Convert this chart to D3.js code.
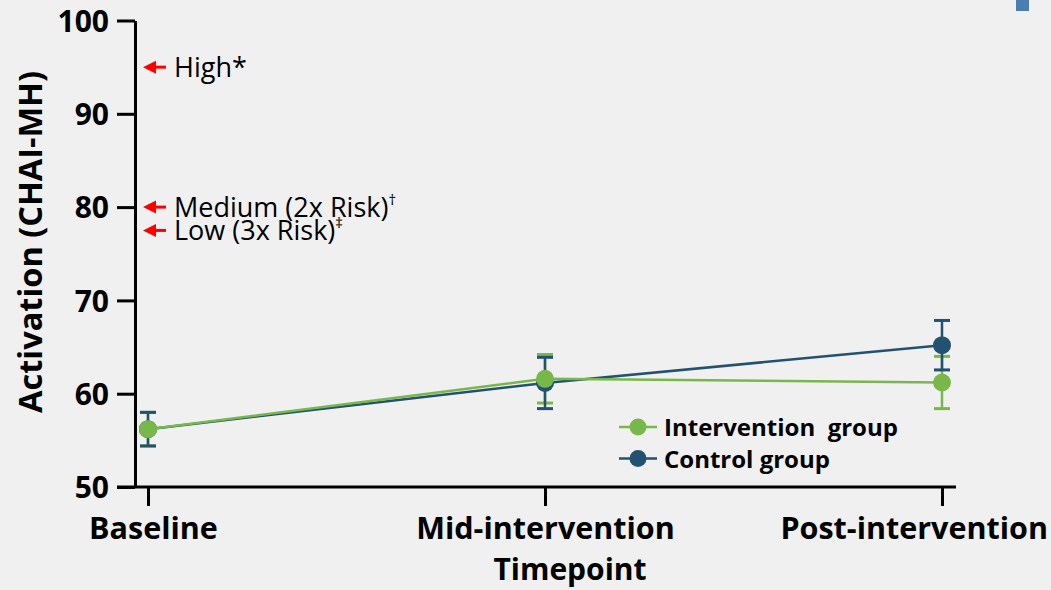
<!DOCTYPE html>
<html>
<head>
<meta charset="utf-8">
<script src="https://cdn.jsdelivr.net/npm/d3@7"></script>
<style>
  html, body { margin: 0; padding: 0; background: #f0f0f0; }
  svg { display: block; }
  text { font-family: "Open Sans", "Noto Sans", sans-serif; }
</style>
</head>
<body>
<svg id="chart" width="1051" height="590"></svg>
<script>
// Timepoints along the x axis
const timepoints = ["Baseline", "Mid-intervention", "Post-intervention"];

// Mean activation scores (CHAI-MH) and error-bar half-widths
const interventionMean = [56.2, 61.6, 61.2];
const interventionErr  = [1.8, 2.6, 2.8];
const controlMean      = [56.2, 61.15, 65.2];
const controlErr       = [1.8, 2.75, 2.65];

// Y axis ticks
const yTicks = [50, 60, 70, 80, 90, 100];

// Risk thresholds marked beside the y axis
const riskValues = [95, 80, 77.5];
const riskLabels = ["High", "Medium (2x Risk)", "Low (3x Risk)"];
const riskMarks  = ["*", "†", "‡"];

const seriesNames  = ["Intervention  group", "Control group"];
const seriesColors = ["#78b84a", "#22526f"];

const svg = d3.select("#chart");
const W = 1051, H = 590;

svg.append("rect").attr("width", W).attr("height", H).attr("fill", "#f0f0f0");
// small slide accent in the corner
svg.append("rect").attr("x", 1016).attr("y", 0).attr("width", 13).attr("height", 11).attr("fill", "#4a7db0");

const x = d3.scalePoint().domain(timepoints).range([148, 942]);
const y = d3.scaleLinear().domain([50, 100]).range([487, 20.5]);

const axisColor = "#000";

// Y axis
const yAxis = svg.append("g")
  .attr("transform", "translate(135,0)")
  .call(d3.axisLeft(y).tickValues(yTicks).tickSize(18).tickSizeOuter(0).tickPadding(8));
yAxis.select(".domain").attr("stroke", axisColor).attr("stroke-width", 3);
yAxis.selectAll(".tick line").attr("stroke", axisColor).attr("stroke-width", 3);
yAxis.selectAll(".tick text")
  .attr("font-size", 30).attr("font-weight", 700).attr("fill", "#000")
  .attr("dy", "0.36em");

// X axis
const xAxis = svg.append("g")
  .attr("transform", "translate(0,487)")
  .call(d3.axisBottom(x).tickSize(19).tickSizeOuter(0).tickPadding(11));
xAxis.select(".domain").remove();
xAxis.append("line")
  .attr("x1", x(timepoints[0]) - 31).attr("x2", x(timepoints[timepoints.length - 1]) + 14)
  .attr("y1", 0).attr("y2", 0)
  .attr("stroke", axisColor).attr("stroke-width", 3);
xAxis.selectAll(".tick line").attr("stroke", axisColor).attr("stroke-width", 3);
xAxis.selectAll(".tick text")
  .attr("font-size", 30.5).attr("font-weight", 700).attr("fill", "#000")
  .attr("dy", "0.72em");
// first label sits a little right of its tick
xAxis.selectAll(".tick text").filter((d, i) => i === 0).attr("x", 5);
// keep the last label inside the canvas
xAxis.selectAll(".tick text").each(function () {
  const bb = this.getBBox();
  const tick = this.parentNode;
  const tx = +d3.select(tick).attr("transform").match(/translate\(([-\d.]+)/)[1];
  const overflow = tx + bb.x + bb.width - (W - 3);
  if (overflow > 0) d3.select(this).attr("x", -overflow);
});

// Axis titles
svg.append("text")
  .attr("x", 570).attr("y", 580)
  .attr("text-anchor", "middle")
  .attr("font-size", 30).attr("font-weight", 700).attr("fill", "#000")
  .text("Timepoint");

svg.append("text")
  .attr("transform", "translate(42,242) rotate(-90)")
  .attr("text-anchor", "middle")
  .attr("font-size", 32.5).attr("font-weight", 700).attr("fill", "#000")
  .text("Activation (CHAI-MH)");

// Risk threshold arrows and labels
const risk = svg.append("g");
riskValues.forEach((v, i) => {
  const yy = y(v);
  risk.append("line")
    .attr("x1", 154).attr("x2", 166).attr("y1", yy).attr("y2", yy)
    .attr("stroke", "#ff0000").attr("stroke-width", 3);
  risk.append("path")
    .attr("d", `M143,${yy} L156,${yy - 6.5} L156,${yy + 6.5} Z`)
    .attr("fill", "#ff0000");
  const t = risk.append("text")
    .attr("x", 174).attr("y", yy + 9.5)
    .attr("font-size", 27).attr("fill", "#000");
  t.append("tspan").text(riskLabels[i]);
  if (riskMarks[i] === "*") {
    t.append("tspan").text(riskMarks[i]);
  } else {
    t.append("tspan").attr("font-size", 15).attr("dy", -12).text(riskMarks[i]);
  }
});

// Series
const series = [
  { name: seriesNames[0], color: seriesColors[0], mean: interventionMean, err: interventionErr },
  { name: seriesNames[1], color: seriesColors[1], mean: controlMean, err: controlErr }
];

function drawErrorBars(s) {
  const g = svg.append("g");
  timepoints.forEach((tp, i) => {
    const cx = x(tp);
    const lo = y(s.mean[i] - s.err[i]), hi = y(s.mean[i] + s.err[i]);
    g.append("line").attr("x1", cx).attr("x2", cx).attr("y1", lo).attr("y2", hi)
      .attr("stroke", s.color).attr("stroke-width", 2.5);
    [lo, hi].forEach(yy => {
      g.append("line").attr("x1", cx - 8).attr("x2", cx + 8).attr("y1", yy).attr("y2", yy)
        .attr("stroke", s.color).attr("stroke-width", 3);
    });
  });
}

function drawLine(s) {
  const g = svg.append("g");
  const line = d3.line().x((d, i) => x(timepoints[i])).y(d => y(d));
  g.append("path").attr("d", line(s.mean))
    .attr("fill", "none").attr("stroke", s.color).attr("stroke-width", 2.5);
  g.selectAll("circle").data(s.mean).join("circle")
    .attr("cx", (d, i) => x(timepoints[i])).attr("cy", d => y(d))
    .attr("r", 9).attr("fill", s.color);
}

drawErrorBars(series[0]);
drawErrorBars(series[1]);
drawLine(series[1]);
drawLine(series[0]);

// Legend
const legend = svg.append("g");
series.forEach((s, i) => {
  const yy = 427 + i * 31.5;
  legend.append("line").attr("x1", 619).attr("x2", 657).attr("y1", yy).attr("y2", yy)
    .attr("stroke", s.color).attr("stroke-width", 2.5);
  legend.append("circle").attr("cx", 638).attr("cy", yy).attr("r", 8.5).attr("fill", s.color);
  legend.append("text").attr("x", 664).attr("y", yy + 9)
    .attr("font-size", 24).attr("font-weight", 700).attr("fill", "#000")
    .attr("xml:space", "preserve")
    .style("white-space", "pre")
    .text(s.name);
});
</script>
</body>
</html>
